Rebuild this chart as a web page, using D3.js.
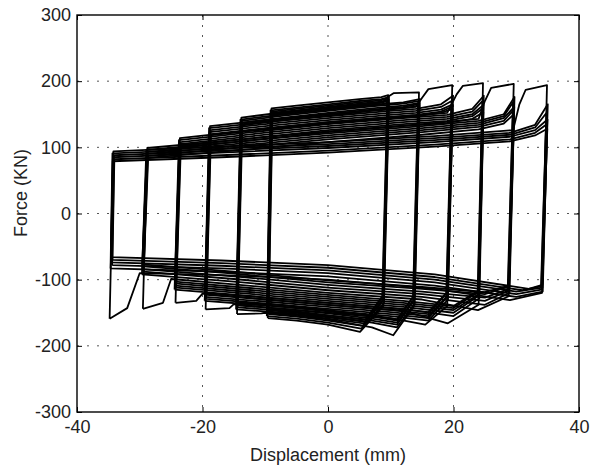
<!DOCTYPE html>
<html><head><meta charset="utf-8">
<script src="https://cdn.jsdelivr.net/npm/d3@7"></script>
<style>body{margin:0;background:#fff}svg{display:block}</style></head>
<body><svg id="c" width="591" height="469"></svg>
<script>
const xTicks = [-40, -20, 0, 20, 40];
const yTicks = [-300, -200, -100, 0, 100, 200, 300];
const xLabel = "Displacement (mm)";
const yLabel = "Force (KN)";

// hysteresis loops: [displacement (mm), force (kN)] vertices
const loopsA10 = [
  [[-9.6,-158],[-9.0,159],[-5,163],[0,168],[5,173],[8.5,176],[9.6,179],[8.8,-140],[5.1,-179],[0,-168],[-5,-162],[-9.6,-158]],
  [[-9.75,-155],[-9.15,156],[-5,160],[0,165],[5,170],[8.5,173],[9.72,176],[8.92,-136],[5.3,-174],[0,-165],[-5,-159],[-9.75,-155]],
  [[-9.5,-152],[-8.9,154],[-5,158],[0,163],[5,168],[8.4,171],[9.5,174],[8.7,-132],[5.5,-170],[0,-162],[-5,-156],[-9.5,-152]],
  [[-9.68,-149],[-9.08,152],[-5,156],[0,161],[5,166],[8.5,169],[9.68,172],[8.88,-129],[5.7,-166],[0,-159],[-5,-153],[-9.68,-149]],
  [[-9.45,-146],[-8.85,150],[-5,154],[0,159],[5,164],[8.3,167],[9.45,170],[8.65,-126],[6,-163],[0,-156],[-5,-150],[-9.45,-146]],
  [[-9.7,-144],[-9.1,148],[-5,152],[0,157],[5,162],[8.5,165],[9.65,168],[8.85,-123],[6,-160],[0,-154],[-5,-148],[-9.7,-144]]
];
const loopsA15 = [
  [[-14.5,-152],[-13.8,145],[-7,153],[0,160],[7,166],[8.8,168],[9.5,176],[10.5,182],[14.5,183],[13.7,-140],[10.4,-184],[7,-172],[0,-160],[-7,-153],[-10,-150],[-10.6,-151],[-14.5,-152]],
  [[-14.65,-145],[-13.95,142],[-7,150],[0,157],[7,164],[12,168],[14.62,173],[13.82,-136],[11,-172],[7,-165],[0,-157],[-7,-150],[-14.65,-145]],
  [[-14.4,-142],[-13.7,140],[-7,148],[0,155],[7,162],[12,166],[14.4,170],[13.6,-132],[11,-168],[7,-162],[0,-154],[-7,-147],[-14.4,-142]],
  [[-14.58,-139],[-13.88,137],[-7,145],[0,152],[7,159],[12,163],[14.58,167],[13.78,-129],[11,-165],[7,-159],[0,-151],[-7,-144],[-14.58,-139]],
  [[-14.35,-136],[-13.65,135],[-7,143],[0,150],[7,157],[12,161],[14.35,165],[13.55,-126],[11,-162],[7,-156],[0,-148],[-7,-141],[-14.35,-136]],
  [[-14.6,-134],[-13.9,133],[-7,141],[0,148],[7,155],[12,159],[14.55,163],[13.75,-124],[11,-160],[7,-154],[0,-146],[-7,-139],[-14.6,-134]]
];
const loopsA20 = [
  [[-19.5,-145],[-18.8,132],[-10,141],[0,150],[10,158],[14,161],[15,175],[16,188],[19.8,194],[19,-140],[15.5,-168],[10,-158],[0,-150],[-10,-142],[-15,-137],[-15.7,-143],[-19.5,-145]],
  [[-19.65,-132],[-18.95,129],[-10,138],[0,147],[10,155],[14,158],[18,165],[19.92,178],[19.12,-130],[16,-162],[10,-155],[0,-147],[-10,-139],[-19.65,-132]],
  [[-19.4,-129],[-18.7,126],[-10,135],[0,144],[10,152],[14,155],[18,161],[19.7,170],[18.9,-127],[16,-158],[10,-152],[0,-144],[-10,-136],[-19.4,-129]],
  [[-19.58,-126],[-18.88,123],[-10,132],[0,141],[10,149],[14,152],[18,157],[19.88,165],[19.08,-124],[16,-155],[10,-149],[0,-141],[-10,-133],[-19.58,-126]],
  [[-19.35,-123],[-18.65,120],[-10,129],[0,138],[10,146],[14,149],[18,154],[19.65,161],[18.85,-121],[16,-152],[10,-146],[0,-138],[-10,-130],[-19.35,-123]],
  [[-19.6,-120],[-18.9,118],[-10,127],[0,136],[10,144],[14,147],[18,152],[19.85,158],[19.05,-118],[16,-149],[10,-143],[0,-135],[-10,-127],[-19.6,-120]]
];
const loopsA25 = [
  [[-24.3,-135],[-23.6,114],[-12,126],[0,138],[12,147],[19,152],[20.5,180],[21.5,193],[24.7,197],[24,-138],[19.1,-166],[12,-147],[0,-138],[-12,-128],[-20,-121],[-21,-132],[-24.3,-135]],
  [[-24.45,-115],[-23.75,111],[-12,123],[0,135],[12,144],[19,149],[23,158],[24.82,178],[24.12,-128],[20,-155],[12,-144],[0,-135],[-12,-125],[-24.45,-115]],
  [[-24.2,-112],[-23.5,108],[-12,120],[0,132],[12,141],[19,146],[23,154],[24.6,170],[23.9,-125],[20,-150],[12,-141],[0,-132],[-12,-122],[-24.2,-112]],
  [[-24.38,-109],[-23.68,105],[-12,117],[0,129],[12,138],[19,143],[23,150],[24.78,164],[24.08,-122],[20,-146],[12,-138],[0,-129],[-12,-119],[-24.38,-109]],
  [[-24.15,-106],[-23.45,102],[-12,114],[0,126],[12,135],[19,140],[23,147],[24.55,158],[23.85,-119],[20,-143],[12,-135],[0,-126],[-12,-116],[-24.15,-106]],
  [[-24.4,-103],[-23.7,99],[-12,111],[0,123],[12,132],[19,137],[23,143],[24.75,153],[24.05,-116],[20,-140],[12,-132],[0,-123],[-12,-113],[-24.4,-103]]
];
const loopsA30 = [
  [[-29.5,-144],[-28.8,99],[-15,111],[0,124],[15,135],[24,143],[25,170],[26,190],[29.6,196],[28.8,-125],[23.9,-146],[15,-130],[0,-120],[-15,-107],[-25,-99],[-26.3,-135],[-29.5,-144]],
  [[-29.65,-92],[-28.95,96],[-15,108],[0,121],[15,132],[24,140],[28,150],[29.72,176],[28.92,-120],[25,-138],[15,-126],[0,-116],[-15,-103],[-29.65,-92]],
  [[-29.4,-88],[-28.7,93],[-15,105],[0,118],[15,129],[24,137],[28,147],[29.5,168],[28.7,-117],[25,-132],[15,-122],[0,-112],[-15,-99],[-29.4,-88]],
  [[-29.58,-84],[-28.88,90],[-15,102],[0,115],[15,126],[24,134],[28,144],[29.68,161],[28.88,-114],[25,-127],[15,-118],[0,-108],[-15,-95],[-29.58,-84]],
  [[-29.35,-80],[-28.65,87],[-15,99],[0,112],[15,123],[24,131],[28,140],[29.45,155],[28.65,-111],[25,-122],[15,-114],[0,-104],[-15,-91],[-29.35,-80]],
  [[-29.6,-77],[-28.9,84],[-15,95],[0,108],[15,119],[24,127],[28,136],[29.65,150],[28.85,-109],[25,-119],[15,-111],[0,-101],[-15,-88],[-29.6,-77]]
];
const loopsA35 = [
  [[-34.8,-159],[-34.2,94],[-17,101],[0,108],[17,117],[29.5,126],[30.5,165],[31.5,187],[34.9,194],[34.1,-120],[29,-131],[17,-114],[0,-100],[-17,-93],[-30,-90],[-32,-143],[-34.8,-159]],
  [[-34.65,-83],[-34.35,91],[-17,98],[0,105],[17,114],[29,122],[33,134],[35.02,165],[34.22,-118],[30,-126],[17,-109],[0,-95],[-17,-88],[-34.65,-83]],
  [[-34.4,-78],[-34.1,88],[-17,95],[0,102],[17,111],[29,119],[33,130],[34.8,152],[34.0,-115],[30,-122],[17,-104],[0,-90],[-17,-83],[-34.4,-78]],
  [[-34.58,-74],[-34.28,85],[-17,92],[0,99],[17,108],[29,116],[33,126],[34.98,142],[34.18,-112],[30,-118],[17,-100],[0,-86],[-17,-79],[-34.58,-74]],
  [[-34.35,-70],[-34.05,82],[-17,88],[0,95],[17,104],[29,112],[33,122],[34.75,134],[33.95,-110],[31,-116],[17,-96],[0,-82],[-17,-75],[-34.35,-70]],
  [[-34.6,-66],[-34.3,79],[-17,85],[0,92],[17,101],[29,109],[33,118],[34.95,128],[34.15,-108],[32,-114],[17,-92],[0,-78],[-17,-71],[-34.6,-66]]
];
const allLoops = [].concat(loopsA10, loopsA15, loopsA20, loopsA25, loopsA30, loopsA35);

const W = 591, H = 469;
const L = 77, R = 579, T = 15, B = 412;
const svg = d3.select("#c");
svg.append("rect").attr("width", W).attr("height", H).attr("fill", "#fff");
const x = d3.scaleLinear().domain([-40, 40]).range([L, R]);
const y = d3.scaleLinear().domain([-300, 300]).range([B, T]);

svg.append("defs").append("clipPath").attr("id", "clip")
  .append("rect").attr("x", L).attr("y", T).attr("width", R - L).attr("height", B - T);

// grid
const grid = svg.append("g").attr("stroke", "#555").attr("stroke-width", 1).attr("stroke-dasharray", "2,8");
grid.selectAll(".gx").data(xTicks.filter(d => d > -40 && d < 40)).join("line")
  .attr("x1", d => x(d)).attr("x2", d => x(d)).attr("y1", T).attr("y2", B);
grid.selectAll(".gy").data(yTicks.filter(d => d > -300 && d < 300)).join("line")
  .attr("y1", d => y(d)).attr("y2", d => y(d)).attr("x1", L).attr("x2", R);

// loops
const line = d3.line().x(d => x(d[0])).y(d => y(d[1]));
svg.append("g").attr("clip-path", "url(#clip)")
  .selectAll("path").data(allLoops).join("path")
  .attr("d", line).attr("fill", "none").attr("stroke", "#000")
  .attr("stroke-width", 1.8).attr("stroke-linejoin", "round");

// axes
const font = "'Liberation Sans', Arial, Helvetica, sans-serif";
const fmt = d => String(d);
const xb = svg.append("g").attr("transform", `translate(0,${B})`)
  .call(d3.axisBottom(x).tickValues(xTicks).tickSizeInner(-5).tickSizeOuter(0).tickPadding(8).tickFormat(fmt));
const yl = svg.append("g").attr("transform", `translate(${L},0)`)
  .call(d3.axisLeft(y).tickValues(yTicks).tickSizeInner(-5).tickSizeOuter(0).tickPadding(6).tickFormat(fmt));
const xt = svg.append("g").attr("transform", `translate(0,${T})`)
  .call(d3.axisTop(x).tickValues(xTicks).tickSizeInner(-5).tickSizeOuter(0).tickFormat(""));
const yr = svg.append("g").attr("transform", `translate(${R},0)`)
  .call(d3.axisRight(y).tickValues(yTicks).tickSizeInner(-5).tickSizeOuter(0).tickFormat(""));
[xb, yl, xt, yr].forEach(g => {
  g.attr("font-family", font).attr("font-size", 18);
  g.select(".domain").remove();
  g.selectAll(".tick line").attr("stroke", "#000").attr("stroke-width", 1);
  g.selectAll(".tick text").attr("fill", "#222");
});
svg.append("rect").attr("x", L).attr("y", T).attr("width", R - L).attr("height", B - T)
  .attr("fill", "none").attr("stroke", "#000").attr("stroke-width", 1.4);

svg.append("text").attr("x", (L + R) / 2).attr("y", 461).attr("text-anchor", "middle")
  .attr("font-family", font).attr("font-size", 18).attr("fill", "#222").text(xLabel);
svg.append("text").attr("transform", "translate(27,193) rotate(-90)").attr("text-anchor", "middle")
  .attr("font-family", font).attr("font-size", 18).attr("fill", "#222").text(yLabel);
</script></body></html>
